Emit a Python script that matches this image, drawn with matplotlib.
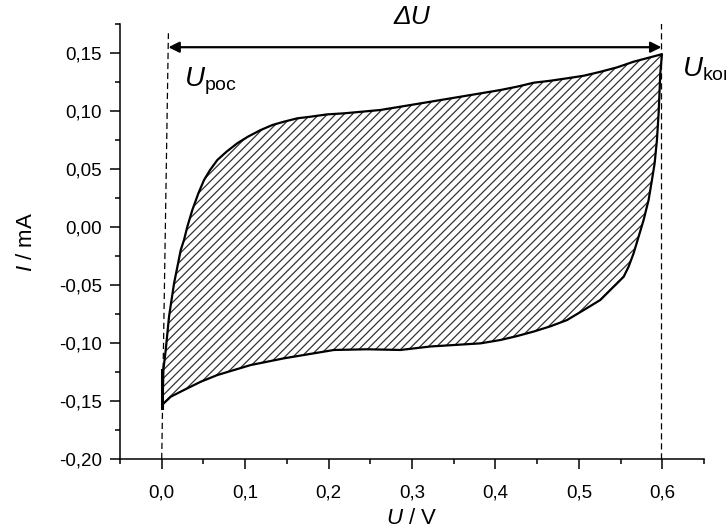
import numpy as np
import matplotlib
matplotlib.use("Agg")
import matplotlib.pyplot as plt

plt.rcParams['font.family'] = ['Liberation Sans', 'DejaVu Sans']
plt.rcParams['mathtext.fontset'] = 'custom'
plt.rcParams['mathtext.rm'] = 'Liberation Sans'
plt.rcParams['mathtext.it'] = 'Liberation Sans:italic'
plt.rcParams['hatch.linewidth'] = 0.9

# forward scan (upper branch), U / V and I / mA
up_x = [0.001, 0.002, 0.0048, 0.0088, 0.0148, 0.0188, 0.0228, 0.0267, 0.0307,
        0.0367, 0.0439, 0.0507, 0.0579, 0.0667, 0.0778, 0.0906, 0.1034, 0.1186,
        0.1325, 0.1465, 0.1625, 0.1784, 0.1984, 0.2184, 0.2623, 0.322, 0.382,
        0.406, 0.426, 0.4459, 0.4659, 0.4858, 0.5058, 0.5257, 0.5457, 0.5656,
        0.5856, 0.5996]
up_y = [-0.153, -0.123, -0.106, -0.077, -0.0485, -0.0342, -0.0198, -0.0112, 0.0003,
        0.0147, 0.029, 0.0405, 0.0491, 0.0578, 0.065, 0.0722, 0.0779, 0.0836,
        0.0879, 0.0908, 0.0937, 0.0951, 0.0971, 0.098, 0.1009, 0.108, 0.1152,
        0.1181, 0.121, 0.1244, 0.1261, 0.1282, 0.1304, 0.1338, 0.1376, 0.1425,
        0.1463, 0.149]

# reverse scan (lower branch)
low_x = [0.5996, 0.5976, 0.5968, 0.5956, 0.5936, 0.5908, 0.5876, 0.5836, 0.5776,
         0.5716, 0.5656, 0.5596, 0.5537, 0.5457, 0.5377, 0.5257, 0.5058, 0.4858,
         0.4659, 0.4459, 0.426, 0.406, 0.382, 0.322, 0.286, 0.2463, 0.2064,
         0.1864, 0.1465, 0.1066, 0.0866, 0.0667, 0.0467, 0.0267, 0.0108, 0.001]
low_y = [0.149, 0.1325, 0.118, 0.098, 0.075, 0.0548, 0.0405, 0.0233, 0.006,
         -0.0084, -0.0227, -0.0342, -0.0429, -0.0486, -0.0543, -0.0629, -0.0716, -0.0802,
         -0.0856, -0.0901, -0.094, -0.0974, -0.1003, -0.103, -0.106, -0.1054, -0.106,
         -0.1084, -0.1132, -0.119, -0.1233, -0.1276, -0.1334, -0.1405, -0.1463, -0.153]

# current spike at start of scan
spike_x = [0.0, 0.0]
spike_y = [-0.156, -0.123]

# guide lines for U_poc / U_kon
left_guide_x = [0.0, 0.008]
left_guide_y = [-0.20, 0.167]
right_guide_x = [0.599, 0.599]
right_guide_y = [-0.20, 0.176]
arrow_y = 0.155

x_ticks = [0.0, 0.1, 0.2, 0.3, 0.4, 0.5, 0.6]
x_labels = ['0,0', '0,1', '0,2', '0,3', '0,4', '0,5', '0,6']
y_ticks = [-0.20, -0.15, -0.10, -0.05, 0.00, 0.05, 0.10, 0.15]
y_labels = ['-0,20', '-0,15', '-0,10', '-0,05', '0,00', '0,05', '0,10', '0,15']

fig = plt.figure(figsize=(7.26, 5.29), dpi=100)
ax = fig.add_axes([0.1653, 0.1323, 0.8044, 0.8223])

loop_x = up_x + low_x[1:]
loop_y = up_y + low_y[1:]
ax.fill(loop_x, loop_y, facecolor='none', edgecolor='#333333', hatch='////', linewidth=0)
ax.plot(loop_x, loop_y, color='black', lw=1.6, solid_joinstyle='round')
ax.plot(spike_x, spike_y, color='black', lw=2.2)

ax.plot(left_guide_x, left_guide_y, color='black', lw=0.9, ls=(0, (5, 3)))
ax.plot(right_guide_x, right_guide_y, color='black', lw=0.9, ls=(0, (5, 3)))

ax.annotate('', xy=(left_guide_x[1], arrow_y), xytext=(right_guide_x[1], arrow_y),
            arrowprops=dict(arrowstyle='<|-|>', color='black', lw=1.6,
                            mutation_scale=16, shrinkA=0, shrinkB=0))

ax.text(0.3, 0.181, 'ΔU', fontsize=19, style='italic', ha='center', va='center',
        clip_on=False)
ax.text(0.027, 0.126, r'$\mathit{U}_{\mathrm{poc}}$', fontsize=20, ha='left', va='center')
ax.text(0.624, 0.136, r'$\mathit{U}_{\mathrm{kon}}$', fontsize=20, ha='left', va='center',
        clip_on=False)

ax.set_xlim(-0.05, 0.65)
ax.set_ylim(-0.20, 0.175)
ax.set_xticks(x_ticks)
ax.set_xticklabels(x_labels)
ax.set_yticks(y_ticks)
ax.set_yticklabels(y_labels)
ax.set_xticks(np.arange(-0.05, 0.66, 0.05), minor=True)
ax.set_yticks(np.arange(-0.175, 0.176, 0.05), minor=True)

for s in ['top', 'right']:
    ax.spines[s].set_visible(False)
for s in ['left', 'bottom']:
    ax.spines[s].set_linewidth(1.1)

ax.tick_params(which='major', direction='out', length=7, width=1.1, labelsize=13.5)
ax.tick_params(axis='x', which='major', pad=11)
ax.tick_params(axis='y', which='major', pad=6)
ax.tick_params(which='minor', direction='out', length=3.5, width=1.1)

ax.set_xlabel(r'$\mathit{U}$ / V', fontsize=16, labelpad=5)
ax.set_ylabel(r'$\mathit{I}$ / mA', fontsize=16, labelpad=16)

fig.savefig('out.png', dpi=100)
